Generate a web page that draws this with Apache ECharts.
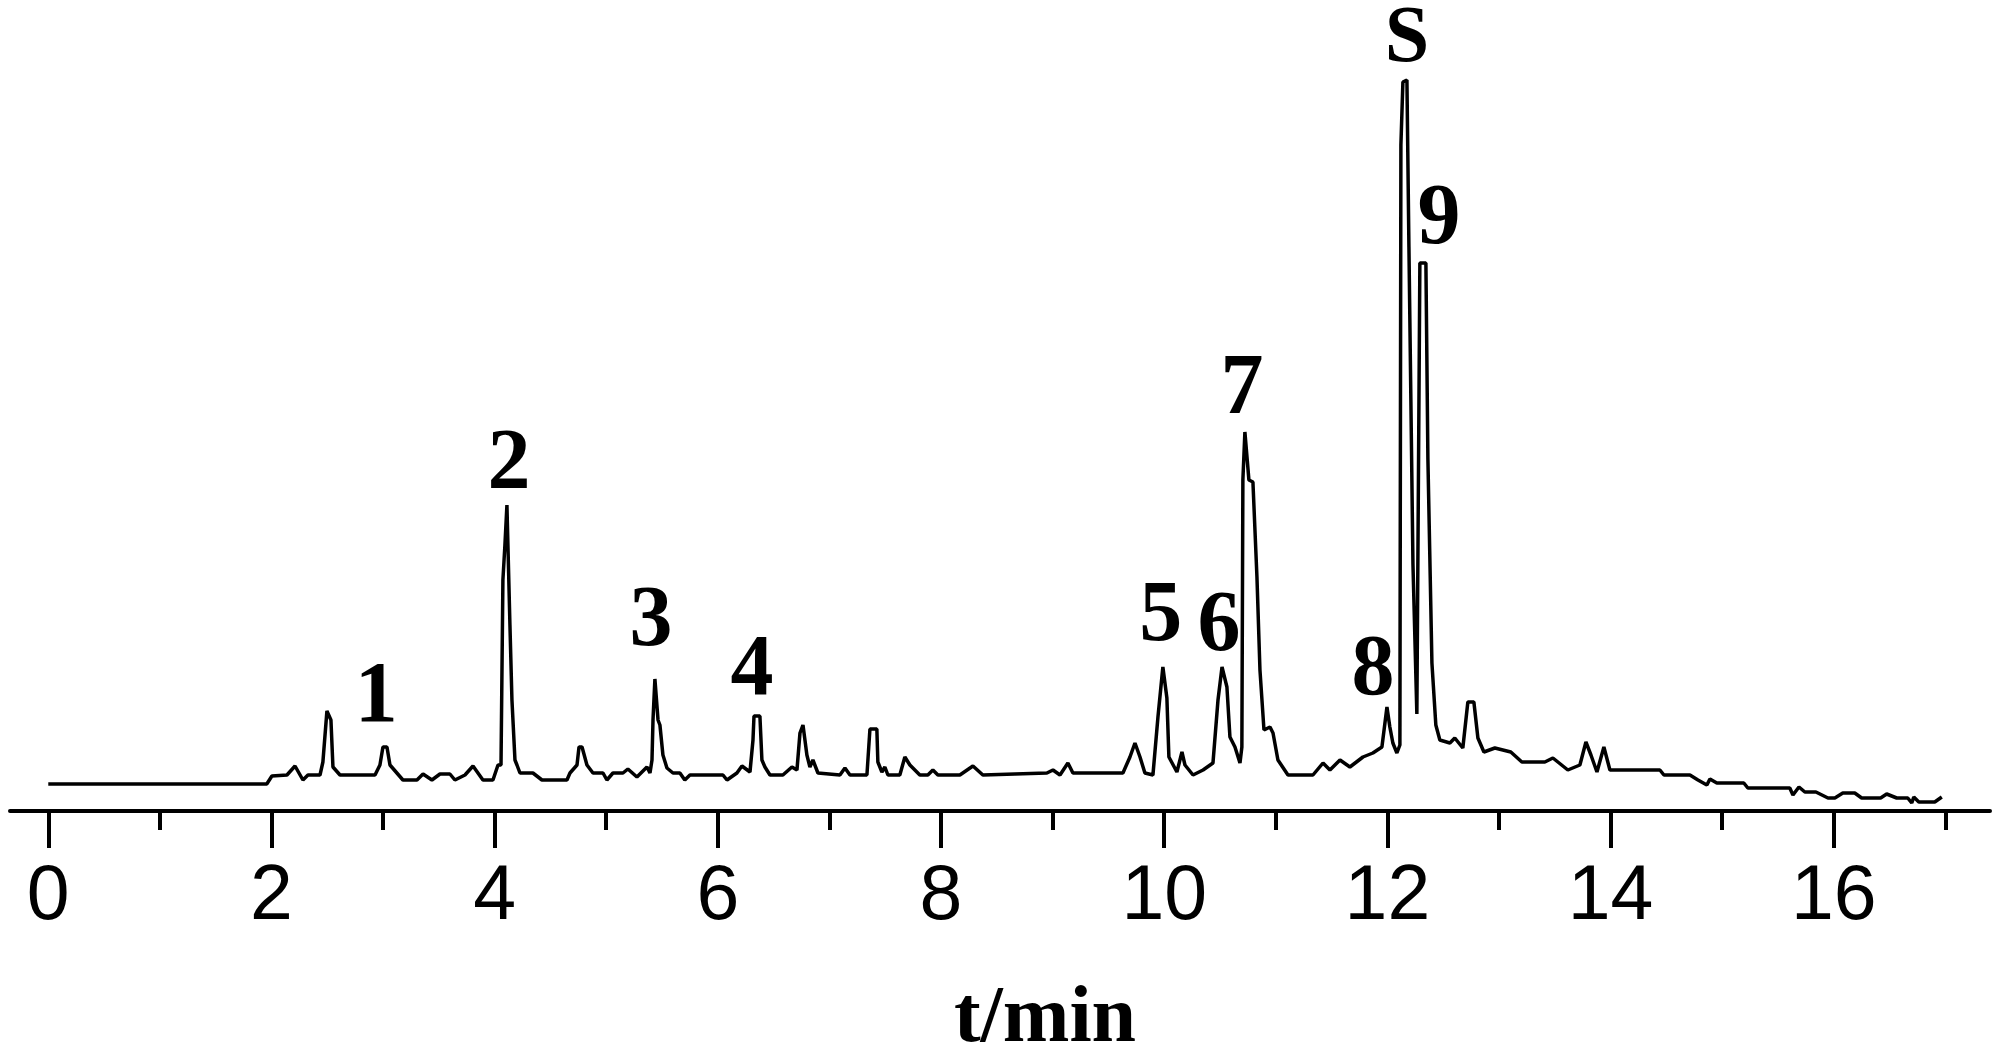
<!DOCTYPE html>
<html>
<head>
<meta charset="utf-8">
<title>t/min</title>
<script src="https://cdn.jsdelivr.net/npm/echarts@6/dist/echarts.min.js"></script>
<style>
  html, body { margin: 0; padding: 0; background: #fff; }
  #chart { width: 1999px; height: 1057px; }
</style>
</head>
<body>
<div id="chart"></div>
<script>
// retention time (min) and detector signal
const timeMin = [
  0, 1.958, 2.004, 2.139, 2.211, 2.282, 2.327, 2.435, 2.461, 2.497,
  2.533, 2.551, 2.614, 2.928, 2.972, 2.999, 3.035, 3.062, 3.178, 3.304,
  3.358, 3.438, 3.51, 3.599, 3.644, 3.734, 3.806, 3.895, 3.985, 4.03,
  4.057, 4.074, 4.092, 4.11, 4.137, 4.155, 4.182, 4.2, 4.227, 4.343,
  4.424, 4.648, 4.675, 4.738, 4.756, 4.783, 4.827, 4.881, 4.971, 5.006,
  5.06, 5.15, 5.194, 5.275, 5.365, 5.392, 5.41, 5.419, 5.436, 5.464,
  5.481, 5.508, 5.544, 5.598, 5.66, 5.704, 5.75, 6.046, 6.082, 6.171,
  6.216, 6.288, 6.315, 6.324, 6.377, 6.395, 6.422, 6.467, 6.583, 6.664,
  6.709, 6.736, 6.763, 6.798, 6.825, 6.852, 6.897, 7.094, 7.139, 7.184,
  7.336, 7.363, 7.425, 7.434, 7.47, 7.497, 7.524, 7.631, 7.676, 7.721,
  7.81, 7.882, 7.927, 7.972, 8.169, 8.286, 8.375, 8.949, 9.003, 9.066,
  9.137, 9.182, 9.63, 9.693, 9.738, 9.783, 9.827, 9.899, 9.944, 9.988,
  10.024, 10.042, 10.114, 10.159, 10.186, 10.258, 10.348, 10.437, 10.482, 10.518,
  10.562, 10.589, 10.634, 10.679, 10.696, 10.705, 10.723, 10.759, 10.795, 10.831,
  10.858, 10.894, 10.948, 10.975, 11.019, 11.109, 11.333, 11.423, 11.485, 11.575,
  11.664, 11.781, 11.87, 11.951, 11.996, 12.022, 12.049, 12.085, 12.112, 12.121,
  12.139, 12.175, 12.193, 12.229, 12.264, 12.291, 12.345, 12.363, 12.399, 12.434,
  12.47, 12.56, 12.604, 12.676, 12.721, 12.775, 12.811, 12.865, 12.963, 13.106,
  13.205, 13.411, 13.483, 13.617, 13.725, 13.779, 13.824, 13.878, 13.94, 13.994,
  14.442, 14.478, 14.711, 14.783, 14.863, 14.89, 14.952, 15.194, 15.23, 15.606,
  15.634, 15.688, 15.741, 15.84, 15.948, 16.01, 16.081, 16.188, 16.25, 16.42,
  16.474, 16.564, 16.663, 16.699, 16.717, 16.762, 16.905, 16.968
];

const signal = [
  27, 27, 35, 36, 45, 31, 36, 36, 49, 100,
  91, 44, 36, 36, 46, 64, 64, 46, 31, 31,
  37, 31, 37, 37, 31, 36, 45, 31, 31, 46,
  46, 231, 266, 306, 186, 111, 51, 46, 38, 38,
  31, 31, 38, 46, 64, 64, 46, 38, 38, 31,
  38, 38, 42, 34, 44, 38, 51, 91, 132, 91,
  86, 56, 43, 38, 38, 31, 36, 36, 31, 38,
  45, 39, 71, 95, 95, 51, 44, 36, 36, 44,
  41, 78, 86, 56, 44, 51, 38, 36, 43, 36,
  36, 82, 82, 49, 39, 44, 36, 36, 54, 46,
  36, 36, 41, 36, 36, 45, 36, 38, 41, 36,
  48, 38, 38, 54, 68, 54, 38, 36, 94, 144,
  113, 54, 39, 59, 46, 36, 41, 48, 111, 144,
  124, 74, 64, 48, 64, 331, 379, 331, 329, 234,
  141, 81, 84, 78, 51, 36, 36, 48, 41, 51,
  44, 54, 58, 64, 104, 84, 68, 58, 66, 666,
  729, 731, 564, 247, 97, 548, 548, 352, 148, 86,
  71, 68, 73, 63, 109, 109, 73, 59, 63, 59,
  49, 49, 53, 41, 46, 69, 56, 39, 64, 41,
  41, 36, 36, 31, 26, 32, 28, 28, 23, 23,
  16, 24, 19, 19, 13, 13, 18, 18, 13, 13,
  17, 13, 13, 8, 14, 9, 9, 14
];

// peak labels and where they sit (time, signal)
const peakNames = ["1", "2", "3", "4", "5", "6", "7", "8", "S", "9"];
const labelTimes = [2.94, 4.128, 5.401, 6.306, 9.97, 10.49, 10.696, 11.87, 12.175, 12.462];
const labelLevels = [112, 345, 188, 139, 193, 183, 420, 139, 771, 590];

const majorTicks = [0, 2, 4, 6, 8, 10, 12, 14, 16];
const minorTicks = [1, 3, 5, 7, 9, 11, 13, 15, 17];

const chart = echarts.init(document.getElementById("chart"));

const trace = timeMin.map((t, i) => [t, signal[i]]);
const labels = peakNames.map((name, i) => ({
  name: name,
  value: [labelTimes[i], labelLevels[i]],
  label: name === "S" ? { fontSize: 80 } : {}
}));

const gridBox = { left: 10, right: 9, top: 11, bottom: 246, containLabel: false, outerBoundsMode: "none" };
const xMin = -0.343;
const xMax = 17.4;

chart.setOption({
  animation: false,
  backgroundColor: "#fff",
  grid: [
    Object.assign({}, gridBox),
    Object.assign({}, gridBox)
  ],
  xAxis: [
    {
      type: "value",
      gridIndex: 0,
      position: "bottom",
      min: xMin,
      max: xMax,
      axisLine: { show: true, lineStyle: { color: "#000", width: 4 } },
      axisTick: {
        show: true,
        customValues: majorTicks,
        length: 37,
        lineStyle: { color: "#000", width: 4 }
      },
      axisLabel: {
        show: true,
        customValues: majorTicks,
        margin: 48,
        color: "#000",
        fontFamily: "Liberation Sans",
        fontSize: 77
      },
      splitLine: { show: false },
      name: "t/min",
      nameLocation: "middle",
      nameGap: 169,
      nameTextStyle: {
        color: "#000",
        fontFamily: "Liberation Serif",
        fontWeight: "bold",
        fontSize: 80,
        padding: [0, 0, 0, 90]
      }
    },
    {
      type: "value",
      gridIndex: 1,
      position: "bottom",
      min: xMin,
      max: xMax,
      axisLine: { show: false },
      axisTick: {
        show: true,
        customValues: minorTicks,
        length: 19,
        lineStyle: { color: "#000", width: 4 }
      },
      axisLabel: { show: false },
      splitLine: { show: false }
    }
  ],
  yAxis: [
    { type: "value", gridIndex: 0, min: 0, max: 800, show: false },
    { type: "value", gridIndex: 1, min: 0, max: 800, show: false }
  ],
  series: [
    {
      type: "line",
      xAxisIndex: 0,
      yAxisIndex: 0,
      data: trace,
      showSymbol: false,
      symbol: "none",
      sampling: "none",
      lineStyle: { color: "#000", width: 3.5 }
    },
    {
      type: "scatter",
      xAxisIndex: 0,
      yAxisIndex: 0,
      data: labels,
      symbolSize: 1,
      itemStyle: { color: "rgba(0,0,0,0)", opacity: 1 },
      label: {
        show: true,
        position: "inside",
        formatter: "{b}",
        color: "#000",
        opacity: 1,
        fontFamily: "Liberation Serif",
        fontWeight: "bold",
        fontSize: 86
      }
    }
  ]
});

window.addEventListener("resize", () => {
  chart.resize();
});
</script>
</body>
</html>
